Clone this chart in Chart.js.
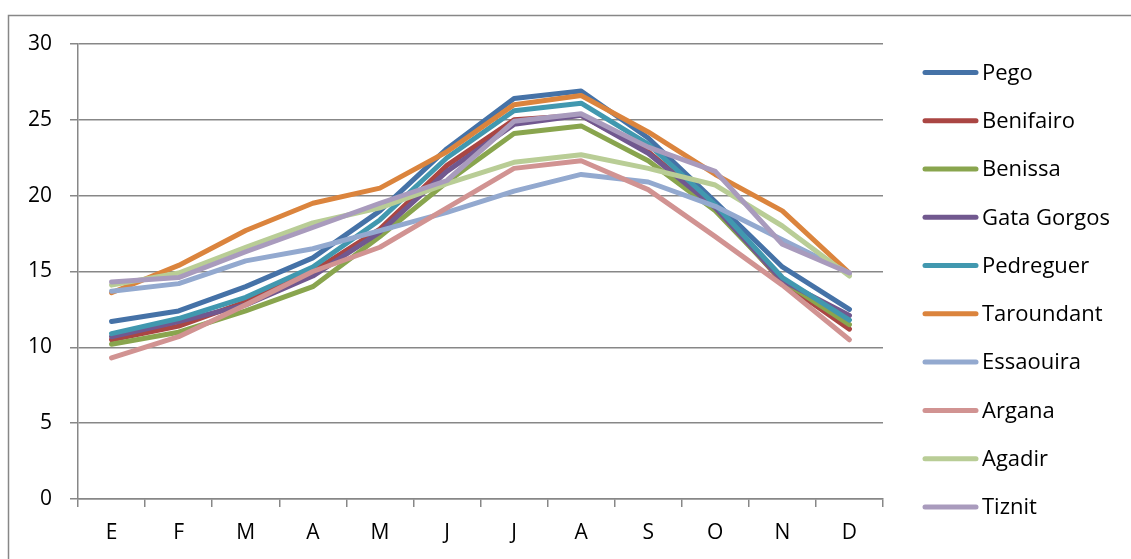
<!DOCTYPE html>
<html>
<head>
<meta charset="utf-8">
<title>Temperaturas medias mensuales</title>
<script src="https://cdn.jsdelivr.net/npm/chart.js@4/dist/chart.umd.min.js"></script>
<style>
  html, body { margin: 0; padding: 0; background: #fff; }
  canvas { display: block; }
</style>
</head>
<body>
<canvas id="tempChart" width="1131" height="559"></canvas>
<script>
// Monthly mean temperatures (°C)
const months = ["E", "F", "M", "A", "M", "J", "J", "A", "S", "O", "N", "D"];
const stations = ["Pego", "Benifairo", "Benissa", "Gata Gorgos", "Pedreguer",
  "Taroundant", "Essaouira", "Argana", "Agadir", "Tiznit"];
const yTicks = [0, 5, 10, 15, 20, 25, 30];

const pego       = [11.7, 12.4, 14.0, 15.9, 19.0, 23.1, 26.4, 26.9, 23.8, 19.6, 15.3, 12.5];
const benifairo  = [10.5, 11.4, 13.0, 15.0, 17.8, 22.0, 25.0, 25.3, 22.9, 19.2, 14.3, 11.2];
const benissa    = [10.2, 11.0, 12.4, 14.0, 17.3, 20.9, 24.1, 24.6, 22.3, 19.0, 14.4, 11.5];
const gataGorgos = [10.7, 11.7, 12.8, 14.7, 17.6, 21.6, 24.7, 25.3, 22.8, 19.2, 14.4, 12.1];
const pedreguer  = [10.9, 11.9, 13.3, 15.3, 18.4, 22.5, 25.6, 26.1, 23.4, 19.4, 14.6, 11.8];
const taroundant = [13.6, 15.4, 17.7, 19.5, 20.5, 22.9, 26.0, 26.6, 24.2, 21.4, 19.0, 14.9];
const essaouira  = [13.7, 14.2, 15.7, 16.5, 17.7, 18.9, 20.3, 21.4, 20.9, 19.3, 17.1, 14.9];
const argana     = [9.3, 10.7, 12.8, 15.0, 16.6, 19.2, 21.8, 22.3, 20.4, 17.3, 14.1, 10.5];
const agadir     = [14.1, 14.9, 16.6, 18.2, 19.2, 20.8, 22.2, 22.7, 21.8, 20.7, 18.0, 14.7];
const tiznit     = [14.3, 14.6, 16.3, 17.9, 19.5, 21.0, 24.9, 25.4, 23.2, 21.6, 16.8, 14.9];

const series = [pego, benifairo, benissa, gataGorgos, pedreguer,
  taroundant, essaouira, argana, agadir, tiznit];
const colors = ["#4572A7", "#AA4643", "#89A54E", "#71588F", "#4198AF",
  "#DB843D", "#93A9CF", "#D19392", "#B9CD96", "#A99BBD"];

const FONT = "'Open Sans', 'DejaVu Sans', sans-serif";
const GRID = "#878787";

// outer frame around the whole chart object
const framePlugin = {
  id: "frame",
  beforeDraw(chart) {
    const ctx = chart.ctx;
    ctx.save();
    ctx.fillStyle = "#fff";
    ctx.fillRect(0, 0, chart.width, chart.height);
    ctx.strokeStyle = GRID;
    ctx.lineWidth = 1.5;
    ctx.strokeRect(8.5, 15.5, chart.width + 20, chart.height + 20);
    ctx.restore();
  },
};

// legend column on the right, one line sample per station
const sideLegend = {
  id: "sideLegend",
  afterDraw(chart) {
    const ctx = chart.ctx;
    ctx.save();
    ctx.font = "22px " + FONT;
    ctx.textBaseline = "middle";
    ctx.lineCap = "round";
    chart.data.datasets.forEach((ds, i) => {
      const y = 72.5 + i * 48.27;
      ctx.strokeStyle = ds.borderColor;
      ctx.lineWidth = 5;
      ctx.beginPath();
      ctx.moveTo(925, y);
      ctx.lineTo(976, y);
      ctx.stroke();
      ctx.fillStyle = "#000";
      ctx.fillText(ds.label, 982, y + 1);
    });
    ctx.restore();
  },
};

new Chart(document.getElementById("tempChart"), {
  type: "line",
  data: {
    labels: months,
    datasets: stations.map((name, i) => ({
      label: name,
      data: series[i],
      borderColor: colors[i],
      backgroundColor: colors[i],
      borderWidth: 5,
      borderJoinStyle: "round",
      borderCapStyle: "round",
      pointRadius: 0,
      tension: 0,
      // later stations are painted over earlier ones
      order: stations.length - i,
    })),
  },
  options: {
    responsive: false,
    animation: false,
    devicePixelRatio: 1,
    layout: { padding: { top: 44, right: 248, left: 0, bottom: 0 } },
    plugins: {
      legend: { display: false },
      tooltip: { enabled: false },
    },
    scales: {
      x: {
        offset: true,
        afterFit: (scale) => { scale.height = 60; },
        grid: {
          offset: true,
          drawOnChartArea: false,
          color: GRID,
          lineWidth: 1.5,
          tickLength: 8,
        },
        border: { color: GRID, width: 1.5 },
        ticks: {
          color: "#000",
          padding: 13,
          maxRotation: 0,
          font: { family: FONT, size: 21 },
        },
      },
      y: {
        min: 0,
        max: 30,
        afterFit: (scale) => { scale.width = 78; },
        afterBuildTicks: (scale) => {
          scale.ticks = yTicks.map((v) => ({ value: v }));
        },
        grid: { color: GRID, lineWidth: 1.5, tickLength: 8 },
        border: { color: GRID, width: 1.5 },
        ticks: {
          color: "#000",
          padding: 18,
          font: { family: FONT, size: 21 },
        },
      },
    },
  },
  plugins: [framePlugin, sideLegend],
});
</script>
</body>
</html>
